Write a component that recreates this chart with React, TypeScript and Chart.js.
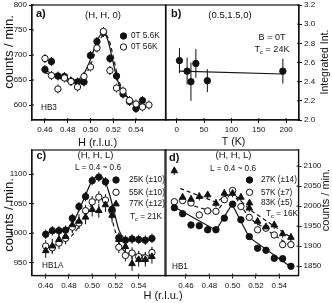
import React, { useEffect, useRef } from "react";
import { Chart, registerables } from "chart.js";

Chart.register(...registerables);

const FONT = "'Liberation Sans', Arial, Helvetica, sans-serif";
const INK = "#111111";

// ---------- panel a : (H,H,0), HB3 ----------
const aH = [0.46, 0.4657, 0.4714, 0.4771, 0.4829, 0.4886, 0.4943, 0.5, 0.5057, 0.5114, 0.5171, 0.5229, 0.5286, 0.5343, 0.54, 0.5457, 0.5514];
const aCounts5p6K = [671, 687, 658, 657, 648, 646, 646, 699, 727, 745, 693, 658, 622, 607, 593, 609];
const aCounts56K = [693, 659, 632, 654, 647, 636, 657, 676, 714, 747, 669, 634, 628, 609, 602, 596, 600];
const aErr = 9;
const aFitH5p6K = [0.46, 0.47, 0.48, 0.488, 0.494, 0.499, 0.504, 0.508, 0.512, 0.5155, 0.519, 0.523, 0.528, 0.535, 0.545, 0.553];
const aFit5p6K = [669, 660, 651, 650, 662, 685, 717, 738, 743, 728, 695, 655, 627, 611, 601, 597];
const aFitH56K = [0.46, 0.47, 0.48, 0.489, 0.495, 0.5005, 0.5055, 0.5095, 0.5135, 0.517, 0.5205, 0.5245, 0.5295, 0.536, 0.546, 0.553];
const aFit56K = [665, 656, 648, 648, 659, 682, 714, 735, 740, 725, 692, 652, 625, 609, 600, 596];
const aXTicks = [0.46, 0.48, 0.5, 0.52, 0.54];
const aYTicks = [600, 650, 700, 750, 800];

// ---------- panel b : (0.5,1.5,0) integrated intensity ----------
const bT = [5, 19, 26, 35, 56, 194];
const bInt = [2.62, 2.51, 2.4, 2.59, 2.41, 2.51];
const bErr = [0.13, 0.14, 0.2, 0.15, 0.12, 0.13];
const bFitT = [5, 194];
const bFit = [2.51, 2.48];
const bXTicks = [0, 50, 100, 150, 200];
const bYTicks = [2.0, 2.2, 2.4, 2.6, 2.8, 3.0, 3.2];

// ---------- panel c : (H,H,L), HB1A ----------
const cH = [0.46, 0.4657, 0.4714, 0.4771, 0.4829, 0.4886, 0.4943, 0.5, 0.5057, 0.5114, 0.5171, 0.5229, 0.5286, 0.5343, 0.54, 0.5457, 0.5514];
const c25K = [998, 1004, 1004, 1005, 1025, 1045, 1062, 1089, 1095, 1087, 1040, 992, 988, 990, 989, 988, 991];
const c55K = [978, 975, 983, 991, 1010, 1017, 1038, 1053, 1061, 1056, 1037, 976, 962, 966, 960, 958, 967];
const c77K = [970, 978, 989, 994, 1014, 1020, 1027, 1040, 1038, 1048, 1030, 989, 977, 948, 955, 955, 960];
const cFitH25K = [0.46, 0.47, 0.478, 0.484, 0.49, 0.495, 0.5, 0.5057, 0.511, 0.515, 0.519, 0.523, 0.527, 0.532, 0.542, 0.552];
const cFit25K = [1001, 1002, 1006, 1020, 1045, 1068, 1089, 1097, 1088, 1065, 1035, 1005, 992, 989, 989, 989];
const cFitH55K = [0.46, 0.47, 0.478, 0.484, 0.49, 0.495, 0.5, 0.5065, 0.512, 0.516, 0.52, 0.524, 0.528, 0.533, 0.542, 0.552];
const cFit55K = [977, 981, 988, 999, 1016, 1033, 1050, 1059, 1050, 1030, 1002, 980, 969, 965, 963, 962];
const cXTicks = [0.46, 0.48, 0.5, 0.52, 0.54];
const cYTicks = [950, 1000, 1050, 1100];

// ---------- panel d : (H,H,L), HB1 ----------
const dH = [0.45, 0.4571, 0.4643, 0.4714, 0.4786, 0.4857, 0.4929, 0.5, 0.5071, 0.5143, 0.5214, 0.5286, 0.5357, 0.5429, 0.55];
const d27K = [1996, 1981, 1953, 1951, 1941, 1941, 1970, 2005, 1966, 1924, 1895, 1890, 1870, 1869, 1850];
const d57K = [2011, 2014, 2008, 1978, 1988, 1987, 2016, 2039, 1999, 1972, 1941, 1945, 1928, 1904, 1904];
const d83K = [2088, 2022, 2017, 2024, 2028, 2007, 2032, 2032, 2022, 1995, 1962, 1948, 1953, 1931, 1922];
const dFitH27K = [0.45, 0.4857, 0.4995, 0.5143, 0.55];
const dFit27K = [1998, 1940, 2005, 1922, 1848];
const dFitH57K = [0.45, 0.4857, 0.4995, 0.5143, 0.55];
const dFit57K = [2015, 1984, 2036, 1970, 1900];
const dFitH83K = [0.455, 0.4857, 0.4995, 0.5143, 0.55];
const dFit83K = [2044, 2010, 2035, 1992, 1922];
const dXTicks = [0.46, 0.48, 0.5, 0.52, 0.54];
const dYTicks = [1850, 1900, 1950, 2000, 2050, 2100];

// ---------- helpers ----------
const zip = (xs: number[], ys: number[]) => ys.map((y, i) => ({ x: xs[i], y }));

function axis(position: string, min: number, max: number, tickVals: number[], decimals: number, size: number) {
  return {
    type: "linear",
    position,
    min,
    max,
    afterBuildTicks: (s: any) => {
      s.ticks = tickVals.map((v) => ({ value: v }));
    },
    afterFit: (s: any) => {
      if (position === "left" || position === "right") s.width = size;
      else s.height = size;
      s.paddingTop = 0;
      s.paddingBottom = 0;
      s.paddingLeft = 0;
      s.paddingRight = 0;
    },
    ticks: {
      font: { family: FONT, size: 8 },
      color: INK,
      padding: 2,
      autoSkip: false,
      maxRotation: 0,
      minRotation: 0,
      callback: (v: any) => Number(v).toFixed(decimals),
    },
    grid: { display: true, drawOnChartArea: false, drawTicks: true, tickLength: 3, color: INK, lineWidth: 1 },
    border: { display: true, color: INK, width: 1.2 },
    title: { display: false },
  };
}

function pts(data: any[], kind: string, errors: any) {
  const open = kind === "open";
  return {
    type: "scatter",
    data,
    showLine: false,
    pointStyle: kind === "tri" ? "triangle" : "circle",
    pointRadius: kind === "tri" ? 3.8 : 3.2,
    pointBorderWidth: 1,
    pointBackgroundColor: open ? "#ffffff" : INK,
    pointBorderColor: INK,
    backgroundColor: open ? "#ffffff" : INK,
    borderColor: INK,
    errors,
  };
}

function fit(data: any[], dashed: boolean, smooth: boolean) {
  return {
    type: "scatter",
    data,
    showLine: true,
    pointRadius: 0,
    borderColor: INK,
    borderWidth: 1.2,
    borderDash: dashed ? [4, 3] : [],
    tension: smooth ? 0.4 : 0,
    cubicInterpolationMode: smooth ? "monotone" : "default",
    fill: false,
  };
}

function txt(ctx: any, s: string, x: number, y: number, size: number, align: string = "left", bold = false) {
  ctx.save();
  ctx.font = `${bold ? "bold " : ""}${size}px ${FONT}`;
  ctx.fillStyle = INK;
  ctx.textAlign = align;
  ctx.textBaseline = "middle";
  ctx.fillText(s, x, y);
  ctx.restore();
}

function rotTxt(ctx: any, s: string, x: number, y: number, size: number) {
  ctx.save();
  ctx.translate(x, y);
  ctx.rotate(-Math.PI / 2);
  ctx.font = `${size}px ${FONT}`;
  ctx.fillStyle = INK;
  ctx.textAlign = "center";
  ctx.textBaseline = "middle";
  ctx.fillText(s, 0, 0);
  ctx.restore();
}

function tcTxt(ctx: any, value: string, x: number, y: number, size: number, align: string) {
  ctx.save();
  const big = `${size}px ${FONT}`;
  const small = `${Math.round(size * 0.7)}px ${FONT}`;
  const rest = ` = ${value}`;
  ctx.font = big;
  const wT = ctx.measureText("T").width;
  const wR = ctx.measureText(rest).width;
  ctx.font = small;
  const wc = ctx.measureText("c").width;
  const total = wT + wc + wR;
  const x0 = align === "center" ? x - total / 2 : x;
  ctx.fillStyle = INK;
  ctx.textBaseline = "middle";
  ctx.textAlign = "left";
  ctx.font = big;
  ctx.fillText("T", x0, y);
  ctx.font = small;
  ctx.fillText("c", x0 + wT, y + size * 0.3);
  ctx.font = big;
  ctx.fillText(rest, x0 + wT + wc, y);
  ctx.restore();
}

function sym(ctx: any, kind: string, x: number, y: number) {
  ctx.save();
  ctx.beginPath();
  if (kind === "tri") {
    const r = 3.8;
    ctx.moveTo(x, y - r);
    ctx.lineTo(x + 0.866 * r, y + 0.5 * r);
    ctx.lineTo(x - 0.866 * r, y + 0.5 * r);
    ctx.closePath();
  } else {
    ctx.arc(x, y, 3.2, 0, Math.PI * 2);
  }
  ctx.fillStyle = kind === "open" ? "#ffffff" : INK;
  ctx.fill();
  ctx.lineWidth = 1;
  ctx.strokeStyle = INK;
  ctx.stroke();
  ctx.restore();
}

const errorBars = {
  id: "errorBars",
  beforeDatasetsDraw(chart: any) {
    const ctx = chart.ctx;
    chart.data.datasets.forEach((ds: any, i: number) => {
      const err = ds.errors;
      if (err == null) return;
      const meta = chart.getDatasetMeta(i);
      const xs = chart.scales[meta.xAxisID];
      const ys = chart.scales[meta.yAxisID];
      ctx.save();
      ctx.strokeStyle = INK;
      ctx.lineWidth = 1;
      ds.data.forEach((p: any, j: number) => {
        const e = Array.isArray(err) ? err[j] : err;
        if (!e) return;
        const x = xs.getPixelForValue(p.x);
        ctx.beginPath();
        ctx.moveTo(x, ys.getPixelForValue(p.y - e));
        ctx.lineTo(x, ys.getPixelForValue(p.y + e));
        ctx.stroke();
      });
      ctx.restore();
    });
  },
};

function framePlugin(draw: (ctx: any) => void) {
  return {
    id: "frame",
    afterDraw(chart: any) {
      const ctx = chart.ctx;
      const a = chart.chartArea;
      ctx.save();
      ctx.strokeStyle = INK;
      ctx.lineWidth = 1.2;
      ctx.strokeRect(a.left, a.top, a.right - a.left, a.bottom - a.top);
      ctx.lineWidth = 1;
      Object.values(chart.scales).forEach((s: any) => {
        s.ticks.forEach((t: any) => {
          const p = s.getPixelForValue(t.value);
          ctx.beginPath();
          if (s.position === "bottom") {
            ctx.moveTo(p, a.bottom);
            ctx.lineTo(p, a.bottom - 2);
          } else if (s.position === "left") {
            ctx.moveTo(a.left, p);
            ctx.lineTo(a.left + 2, p);
          } else if (s.position === "right") {
            ctx.moveTo(a.right, p);
            ctx.lineTo(a.right - 2, p);
          }
          ctx.stroke();
        });
      });
      ctx.restore();
      draw(ctx);
    },
  };
}

function baseOptions(pad: any, x: any, y: any) {
  return {
    responsive: false,
    maintainAspectRatio: false,
    devicePixelRatio: 1,
    animation: false,
    events: [],
    layout: { padding: pad },
    plugins: { legend: { display: false }, tooltip: { enabled: false }, title: { display: false } },
    scales: { x, y },
  };
}

const LEG = 8.2;

function configA(): any {
  return {
    type: "scatter",
    data: {
      datasets: [
        pts(zip(aH, aCounts56K), "open", aErr),
        pts(zip(aH, aCounts5p6K), "filled", aErr),
        fit(zip(aFitH5p6K, aFit5p6K), false, true),
        fit(zip(aFitH56K, aFit56K), true, true),
      ],
    },
    options: baseOptions(
      { left: 0, top: 3, right: 166, bottom: 153 },
      axis("bottom", 0.4486, 0.5664, aXTicks, 2, 30),
      axis("left", 570, 800, aYTicks, 0, 32)
    ),
    plugins: [
      errorBars,
      framePlugin((ctx) => {
        txt(ctx, "a)", 36, 14, 11, "left", true);
        txt(ctx, "(H, H, 0)", 103, 15, 9.5, "center");
        sym(ctx, "filled", 123.5, 36);
        txt(ctx, "0T 5.6K", 131, 36, LEG);
        sym(ctx, "open", 123.5, 47);
        txt(ctx, "0T 56K", 131, 47, LEG);
        txt(ctx, "HB3", 41, 108, LEG);
        rotTxt(ctx, "counts / min.", 9.5, 52, 13);
        txt(ctx, "H (r.l.u.)", 97.5, 142.5, 11, "center");
      }),
    ],
  };
}

function configB(): any {
  return {
    type: "scatter",
    data: {
      datasets: [pts(zip(bT, bInt), "filled", bErr), fit(zip(bFitT, bFit), false, false)],
    },
    options: baseOptions(
      { left: 165.5, top: 3, right: 0, bottom: 153 },
      axis("bottom", -20.5, 223.5, bXTicks, 0, 30),
      axis("right", 2.0, 3.2, bYTicks, 1, 33)
    ),
    plugins: [
      errorBars,
      framePlugin((ctx) => {
        txt(ctx, "b)", 171, 14, 11, "left", true);
        txt(ctx, "(0.5,1.5,0)", 230, 15, 9.5, "center");
        txt(ctx, "B = 0T", 272, 38, 9, "center");
        tcTxt(ctx, "24K", 272, 50, 9, "center");
        rotTxt(ctx, "Integrated Int.", 325, 62, 10.5);
        txt(ctx, "T (K)", 233.5, 142, 10.5, "center");
      }),
    ],
  };
}

function configC(): any {
  return {
    type: "scatter",
    data: {
      datasets: [
        pts(zip(cH, c25K), "filled", 8),
        pts(zip(cH, c77K), "tri", 12),
        pts(zip(cH, c55K), "open", 10),
        fit(zip(cFitH25K, cFit25K), false, true),
        fit(zip(cFitH55K, cFit55K), true, true),
      ],
    },
    options: baseOptions(
      { left: 0, top: 150, right: 166, bottom: 0 },
      axis("bottom", 0.4482, 0.5635, cXTicks, 2, 27.5),
      axis("left", 928, 1141, cYTicks, 0, 32)
    ),
    plugins: [
      errorBars,
      framePlugin((ctx) => {
        txt(ctx, "c)", 36.5, 156, 11, "left", true);
        txt(ctx, "(H, H, L)", 95.5, 155, 9.5, "center");
        txt(ctx, "L = 0.4 ~ 0.6", 98, 168, LEG, "center");
        sym(ctx, "filled", 116, 180);
        txt(ctx, "25K (\u00b110)", 129, 180, LEG);
        sym(ctx, "open", 116, 192.3);
        txt(ctx, "55K (\u00b110)", 129, 192.3, LEG);
        sym(ctx, "tri", 116, 204);
        txt(ctx, "77K (\u00b112)", 129, 204, LEG);
        tcTxt(ctx, "21K", 130, 216.5, LEG, "left");
        txt(ctx, "HB1A", 42, 266, LEG);
        rotTxt(ctx, "counts / min.", 9.5, 215, 13);
        txt(ctx, "H (r.l.u.)", 163, 296, 11, "center");
      }),
    ],
  };
}

function configD(): any {
  return {
    type: "scatter",
    data: {
      datasets: [
        pts(zip(dH, d27K), "filled", 0),
        pts(zip(dH, d83K), "tri", 10),
        pts(zip(dH, d57K), "open", 8),
        fit(zip(dFitH27K, dFit27K), false, false),
        fit(zip(dFitH57K, dFit57K), true, false),
        fit(zip(dFitH83K, dFit83K), true, false),
      ],
    },
    options: baseOptions(
      { left: 165, top: 150, right: 0, bottom: 0 },
      axis("bottom", 0.442, 0.5565, dXTicks, 2, 27.5),
      axis("right", 1827, 2140, dYTicks, 0, 33.5)
    ),
    plugins: [
      errorBars,
      framePlugin((ctx) => {
        txt(ctx, "d)", 169, 158, 11, "left", true);
        txt(ctx, "(H, H, L)", 233.5, 155, 9.5, "center");
        txt(ctx, "L = 0.4 ~ 0.6", 233, 169, LEG, "center");
        sym(ctx, "filled", 249.5, 180);
        txt(ctx, "27K (\u00b114)", 261, 180, LEG);
        sym(ctx, "open", 249.5, 192.3);
        txt(ctx, "57K (\u00b17)", 261, 192.3, LEG);
        sym(ctx, "tri", 249.5, 203);
        txt(ctx, "83K (\u00b15)", 261, 203, LEG);
        tcTxt(ctx, "16K", 266, 213.5, LEG, "left");
        txt(ctx, "HB1", 172, 266.5, LEG);
        rotTxt(ctx, "counts / min.", 325.5, 200, 11);
      }),
    ],
  };
}

const CONFIGS = [configA, configB, configC, configD];

export default function App() {
  const r0 = useRef<HTMLCanvasElement>(null);
  const r1 = useRef<HTMLCanvasElement>(null);
  const r2 = useRef<HTMLCanvasElement>(null);
  const r3 = useRef<HTMLCanvasElement>(null);
  const refs = [r0, r1, r2, r3];

  useEffect(() => {
    const charts = refs.map((r, i) => new Chart(r.current as HTMLCanvasElement, CONFIGS[i]()));
    return () => charts.forEach((c) => c.destroy());
  }, []);

  return (
    <div style={{ position: "absolute", left: 0, top: 0, width: 332, height: 303, background: "#ffffff", overflow: "hidden" }}>
      {refs.map((r, i) => (
        <canvas
          key={i}
          ref={r}
          width={332}
          height={303}
          style={{ position: "absolute", left: 0, top: 0, width: 332, height: 303 }}
        />
      ))}
    </div>
  );
}
